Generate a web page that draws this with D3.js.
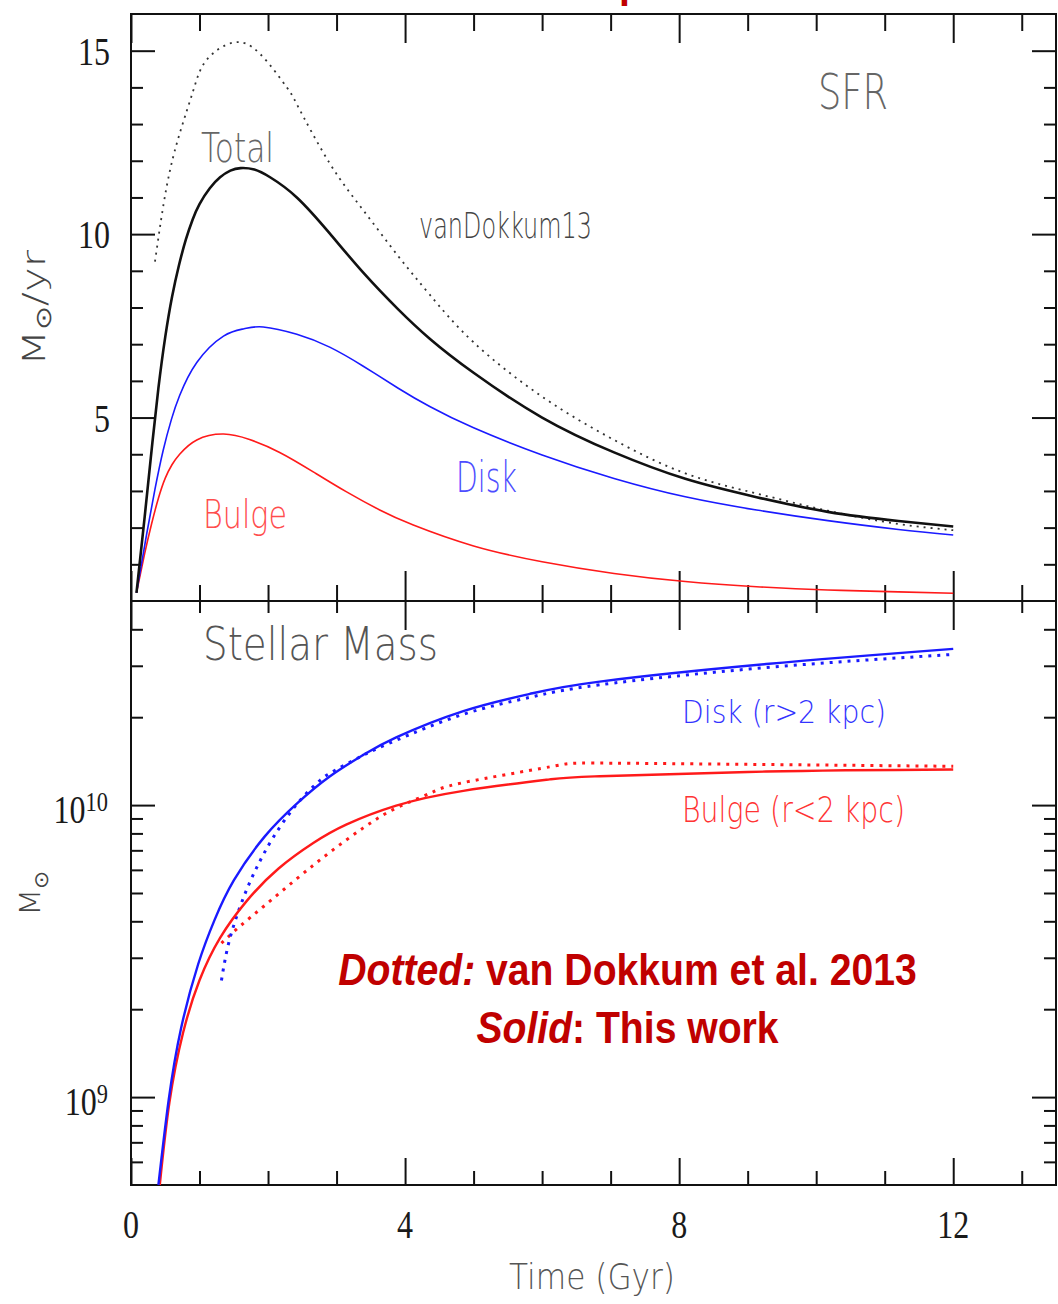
<!DOCTYPE html>
<html>
<head>
<meta charset="utf-8">
<script src="https://cdn.jsdelivr.net/npm/d3@7"></script>
<style>
  body { margin: 0; background: #fff; }
  svg { display: block; }
</style>
</head>
<body>
<svg id="chart" width="1058" height="1304"></svg>
<script>
// ---- tick values ----
const timeTicksMajor = [0, 4, 8, 12];
const timeTicksMinor = [1, 2, 3, 5, 6, 7, 9, 10, 11, 13];
const timeTickLabels = ["0", "4", "8", "12"];
const sfrTicksMajor = [5, 10, 15];
const sfrTicksMinor = [1, 2, 3, 4, 6, 7, 8, 9, 11, 12, 13, 14];
const sfrTickLabels = ["5", "10", "15"];
const massTicksMajor = [1e9, 1e10];
const massTicksMinor = [6e8, 7e8, 8e8, 9e8, 2e9, 3e9, 4e9, 5e9, 6e9, 7e9, 8e9, 9e9, 2e10, 3e10, 4e10];
const massTickExponents = ["9", "10"];

// ---- star formation rate histories: [time (Gyr), SFR (Msun/yr)] ----
const sfrTotal = [
  [0.08, 0.22], [0.2, 2.3], [0.3, 4.1], [0.4, 5.8], [0.5, 7.2], [0.6, 8.3], [0.7, 9.15],
  [0.8, 9.85], [0.9, 10.4], [1.0, 10.82], [1.15, 11.25], [1.3, 11.55], [1.45, 11.73],
  [1.6, 11.8], [1.8, 11.76], [2.03, 11.55], [2.42, 11.0], [2.9, 10.02], [3.39, 8.95],
  [3.9, 7.95], [4.36, 7.15], [5.0, 6.22], [6.0, 5.0], [7.05, 4.05], [8.09, 3.33],
  [9.13, 2.83], [10.17, 2.43], [11.2, 2.18], [12.0, 2.03]
];
const sfrDisk = [
  [0.08, 0.22], [0.23, 1.84], [0.35, 3.05], [0.47, 4.11], [0.59, 4.95], [0.71, 5.6],
  [0.96, 6.5], [1.35, 7.22], [1.65, 7.42], [1.93, 7.47], [2.42, 7.27], [2.9, 6.92],
  [3.39, 6.4], [3.9, 5.8], [4.36, 5.3], [5.0, 4.72], [6.0, 3.98], [7.05, 3.34],
  [8.09, 2.84], [9.13, 2.48], [10.17, 2.19], [11.2, 1.95], [12.0, 1.80]
];
const sfrBulge = [
  [0.08, 0.22], [0.2, 1.3], [0.3, 2.1], [0.4, 2.8], [0.5, 3.35], [0.6, 3.72],
  [0.71, 4.0], [0.96, 4.39], [1.35, 4.55], [1.73, 4.40], [2.17, 4.05], [2.66, 3.52],
  [3.14, 2.98], [3.63, 2.48], [4.12, 2.07], [5.0, 1.5], [6.0, 1.07], [7.05, 0.75],
  [8.09, 0.53], [9.13, 0.39], [10.17, 0.30], [11.2, 0.25], [12.0, 0.21]
];
const sfrVanDokkum = [
  [0.35, 9.25], [0.52, 11.29], [0.71, 12.74], [0.91, 13.92], [1.10, 14.74], [1.49, 15.22],
  [1.88, 14.92], [2.27, 14.01], [2.44, 13.47], [2.9, 11.93], [3.39, 10.65], [3.9, 9.4],
  [4.36, 8.35], [5.0, 7.05], [6.0, 5.57], [7.05, 4.39], [8.09, 3.48], [9.13, 2.93],
  [10.17, 2.46], [11.2, 2.10], [12.0, 1.93]
];

// ---- stellar mass growth: [time (Gyr), mass (Msun)] ----
const massDisk = [
  [0.40, 5.0e8], [0.55, 9.772e8], [0.73, 1.718e9], [0.98, 2.851e9], [1.22, 4.046e9],
  [1.5, 5.521e9], [1.95, 7.798e9], [2.42, 1.0116e10], [2.90, 1.2531e10], [3.39, 1.4859e10],
  [3.87, 1.7061e10], [4.85, 2.0989e10], [5.82, 2.4044e10], [6.84, 2.6485e10],
  [9.27, 3.0409e10], [12.0, 3.4277e10]
];
const massBulge = [
  [0.42, 5.0e8], [0.56, 9.55e8], [0.76, 1.66e9], [1.0, 2.512e9], [1.3, 3.508e9],
  [1.69, 4.699e9], [2.15, 6.053e9], [2.66, 7.413e9], [3.14, 8.570e9], [3.87, 9.954e9],
  [4.85, 1.119e10], [6.11, 1.225e10], [6.84, 1.256e10], [9.27, 1.303e10], [12.0, 1.324e10]
];
const massDiskVanDokkum = [
  [1.32, 2.51e9], [1.44, 3.47e9], [1.64, 4.81e9], [1.83, 6.08e9], [2.07, 7.71e9],
  [2.42, 1.007e10], [2.76, 1.2162e10], [3.00, 1.3243e10], [3.40, 1.4859e10], [3.87, 1.6672e10],
  [4.85, 2.046e10], [5.82, 2.339e10], [6.84, 2.582e10], [9.27, 2.958e10], [12.0, 3.281e10]
];
const massBulgeVanDokkum = [
  [1.32, 3.37e9], [1.59, 3.846e9], [1.93, 4.487e9], [2.42, 5.598e9], [2.90, 6.887e9],
  [3.39, 8.356e9], [3.87, 9.772e9], [4.36, 1.0965e10], [4.85, 1.194e10], [6.11, 1.352e10],
  [6.84, 1.393e10], [9.27, 1.377e10], [12.0, 1.358e10]
];

// ---- layout ----
const svg = d3.select("#chart");
const frameLeft = 131, frameRight = 1056, frameTop = 14, frameMid = 601, frameBottom = 1185;

const x = d3.scaleLinear().domain([0, 13.5]).range([frameLeft, frameRight]);
const ySfr = d3.scaleLinear().domain([0, 16]).range([frameMid, frameTop]);
const yMass = d3.scaleLog().domain([5e8, 5e10]).range([frameBottom, frameMid]);

const defs = svg.append("defs");
defs.append("clipPath").attr("id", "clipTop")
  .append("rect").attr("x", frameLeft).attr("y", frameTop)
  .attr("width", frameRight - frameLeft).attr("height", frameMid - frameTop);
defs.append("clipPath").attr("id", "clipBot")
  .append("rect").attr("x", frameLeft).attr("y", frameMid)
  .attr("width", frameRight - frameLeft).attr("height", frameBottom - frameMid);

// tick rows drawn with d3 axes (inward-facing, no domain line)
function ticks(axisGen, scale, values, size, tx, ty) {
  svg.append("g")
    .attr("transform", `translate(${tx},${ty})`)
    .call(axisGen(scale).tickValues(values).tickSize(size).tickFormat(""))
    .call(g => g.select(".domain").remove())
    .call(g => g.selectAll("line").attr("stroke", "#111").attr("stroke-width", 2));
}
// SFR panel
ticks(d3.axisBottom, x, timeTicksMinor, 17, 0, frameTop);
ticks(d3.axisBottom, x, timeTicksMajor, 29, 0, frameTop);
ticks(d3.axisTop, x, timeTicksMinor, 16, 0, frameMid);
ticks(d3.axisTop, x, timeTicksMajor, 30, 0, frameMid);
ticks(d3.axisRight, ySfr, sfrTicksMinor, 12, frameLeft, 0);
ticks(d3.axisRight, ySfr, sfrTicksMajor, 24, frameLeft, 0);
ticks(d3.axisLeft, ySfr, sfrTicksMinor, 12, frameRight, 0);
ticks(d3.axisLeft, ySfr, sfrTicksMajor, 24, frameRight, 0);
// mass panel
ticks(d3.axisBottom, x, timeTicksMinor, 12, 0, frameMid);
ticks(d3.axisBottom, x, timeTicksMajor, 29, 0, frameMid);
ticks(d3.axisTop, x, timeTicksMinor, 14, 0, frameBottom);
ticks(d3.axisTop, x, timeTicksMajor, 27, 0, frameBottom);
ticks(d3.axisRight, yMass, massTicksMinor, 12, frameLeft, 0);
ticks(d3.axisRight, yMass, massTicksMajor, 24, frameLeft, 0);
ticks(d3.axisLeft, yMass, massTicksMinor, 12, frameRight, 0);
ticks(d3.axisLeft, yMass, massTicksMajor, 24, frameRight, 0);

// frames
svg.append("rect").attr("x", frameLeft).attr("y", frameTop)
  .attr("width", frameRight - frameLeft).attr("height", frameBottom - frameTop)
  .attr("fill", "none").attr("stroke", "#111").attr("stroke-width", 2);
svg.append("line").attr("x1", frameLeft).attr("x2", frameRight).attr("y1", frameMid).attr("y2", frameMid)
  .attr("stroke", "#111").attr("stroke-width", 2);

// numeric tick labels (narrow serif digits)
const numFont = "'Liberation Serif', 'DejaVu Serif', serif";
function numLabel(txt, px, py, anchor) {
  const g = svg.append("g").attr("transform", `translate(${px},${py}) scale(0.8,1)`);
  g.append("text").attr("text-anchor", anchor).attr("font-family", numFont)
    .attr("font-size", 40).attr("fill", "#1a1a1a").text(txt);
  return g;
}
timeTicksMajor.forEach((t, i) => numLabel(timeTickLabels[i], x(t), 1238, "middle"));
sfrTicksMajor.forEach((v, i) => numLabel(sfrTickLabels[i], 110, ySfr(v) + 14, "end"));
massTicksMajor.forEach((m, i) => {
  const g = svg.append("g").attr("transform", `translate(108,${yMass(m) + 18}) scale(0.8,1)`);
  const t = g.append("text").attr("text-anchor", "end").attr("font-family", numFont).attr("fill", "#1a1a1a");
  t.append("tspan").attr("font-size", 40).text("10");
  t.append("tspan").attr("font-size", 28).attr("dy", -12).text(massTickExponents[i]);
});

// curves: smooth splines through the sampled points
const lineSfr = d3.line().x(d => x(d[0])).y(d => ySfr(d[1])).curve(d3.curveNatural);
const lineMass = d3.line().x(d => x(d[0])).y(d => yMass(d[1])).curve(d3.curveNatural);

const topG = svg.append("g").attr("clip-path", "url(#clipTop)");
const botG = svg.append("g").attr("clip-path", "url(#clipBot)");

topG.append("path").attr("d", lineSfr(sfrVanDokkum)).attr("fill", "none")
  .attr("stroke", "#333").attr("stroke-width", 1.8).attr("stroke-dasharray", "2,5");
topG.append("path").attr("d", lineSfr(sfrBulge)).attr("fill", "none")
  .attr("stroke", "#ff1a1a").attr("stroke-width", 1.6);
topG.append("path").attr("d", lineSfr(sfrDisk)).attr("fill", "none")
  .attr("stroke", "#1a1aff").attr("stroke-width", 1.6);
topG.append("path").attr("d", lineSfr(sfrTotal)).attr("fill", "none")
  .attr("stroke", "#111").attr("stroke-width", 2.6);

botG.append("path").attr("d", lineMass(massBulgeVanDokkum)).attr("fill", "none")
  .attr("stroke", "#ff1a1a").attr("stroke-width", 3).attr("stroke-dasharray", "3,6");
botG.append("path").attr("d", lineMass(massDiskVanDokkum)).attr("fill", "none")
  .attr("stroke", "#1a1aff").attr("stroke-width", 3).attr("stroke-dasharray", "3,6");
botG.append("path").attr("d", lineMass(massBulge)).attr("fill", "none")
  .attr("stroke", "#ff1a1a").attr("stroke-width", 2.4);
botG.append("path").attr("d", lineMass(massDisk)).attr("fill", "none")
  .attr("stroke", "#1a1aff").attr("stroke-width", 2.4);

// panel and curve labels
const labelFont = "'DejaVu Sans', 'Open Sans', sans-serif";
const labels = [
  { text: "SFR", x: 818, y: 109, size: 50, w: 70, color: "#666" },
  { text: "Total", x: 201, y: 162, size: 40, w: 73, color: "#666" },
  { text: "vanDokkum13", x: 419, y: 238, size: 35, w: 173, color: "#444" },
  { text: "Disk", x: 456, y: 492, size: 42, w: 61, color: "#4d4dff" },
  { text: "Bulge", x: 203, y: 528, size: 39, w: 84, color: "#ff4d4d" },
  { text: "Stellar Mass", x: 203, y: 660, size: 47, w: 235, color: "#555" },
  { text: "Disk (r>2 kpc)", x: 682, y: 723, size: 32, w: 204, color: "#3333ff" },
  { text: "Bulge (r<2 kpc)", x: 682, y: 822, size: 35, w: 223, color: "#ff3333" },
  { text: "Time (Gyr)", x: 509, y: 1289, size: 35, w: 166, color: "#555" }
];
labels.forEach(l => {
  svg.append("text").attr("x", l.x).attr("y", l.y)
    .attr("font-family", labelFont).attr("font-size", l.size).attr("font-weight", 300)
    .attr("fill", l.color).attr("textLength", l.w).attr("lengthAdjust", "spacingAndGlyphs")
    .text(l.text);
});

// y-axis titles
const yt1 = svg.append("text").attr("transform", "translate(45,366) rotate(-90)")
  .attr("font-family", labelFont).attr("font-size", 32).attr("font-weight", 300).attr("fill", "#444")
  .attr("textLength", 116).attr("lengthAdjust", "spacingAndGlyphs");
yt1.append("tspan").text("M");
yt1.append("tspan").attr("font-size", 22).attr("dy", 6).text("⊙");
yt1.append("tspan").attr("dy", -6).text("/yr");

const yt2 = svg.append("text").attr("transform", "translate(40,916) rotate(-90)")
  .attr("font-family", labelFont).attr("font-size", 29).attr("font-weight", 300).attr("fill", "#444")
  .attr("textLength", 46).attr("lengthAdjust", "spacingAndGlyphs");
yt2.append("tspan").text("M");
yt2.append("tspan").attr("font-size", 20).attr("dy", 8).text("⊙");

// annotation
const noteFont = "'Liberation Sans', Arial, sans-serif";
const red = "#c00000";
const n1 = svg.append("g").attr("transform", "translate(627.5,985) scale(0.87,1)")
  .append("text").attr("text-anchor", "middle").attr("font-family", noteFont)
  .attr("font-size", 45).attr("font-weight", "bold").attr("fill", red);
n1.append("tspan").attr("font-style", "italic").text("Dotted:");
n1.append("tspan").text(" van Dokkum et al. 2013");
const n2 = svg.append("g").attr("transform", "translate(627.5,1043) scale(0.87,1)")
  .append("text").attr("text-anchor", "middle").attr("font-family", noteFont)
  .attr("font-size", 45).attr("font-weight", "bold").attr("fill", red);
n2.append("tspan").attr("font-style", "italic").text("Solid");
n2.append("tspan").text(": This work");

// title glyph running off the top edge
svg.append("g").attr("transform", "translate(619,-3.5) scale(0.87,1)")
  .append("text").attr("font-family", noteFont).attr("font-size", 45)
  .attr("font-weight", "bold").attr("fill", red).text("p");
</script>
</body>
</html>
